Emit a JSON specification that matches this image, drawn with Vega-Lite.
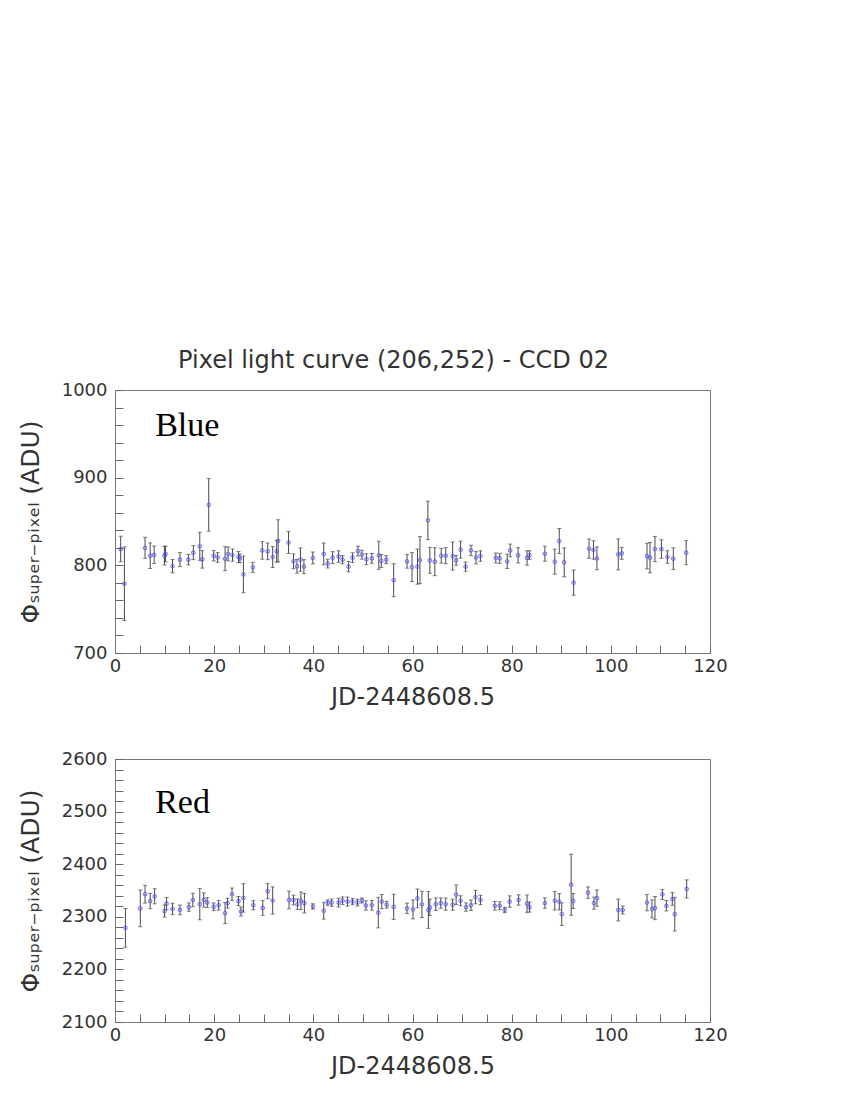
{
  "$schema": "https://vega.github.io/schema/vega-lite/v6.json",
  "background": "white",
  "padding": {"left": 17, "top": 348, "right": 20, "bottom": 20},
  "config": {
    "font": "DejaVu Sans",
    "view": {"stroke": "#777777", "strokeWidth": 1},
    "axis": {
      "grid": false,
      "domainColor": "#777777",
      "tickColor": "#666666",
      "labelFont": "DejaVu Sans",
      "labelFontSize": 18,
      "labelColor": "#333333",
      "titleFont": "DejaVu Sans",
      "titleFontSize": 24,
      "titleColor": "#333333",
      "titleFontWeight": "normal",
      "labelFlush": false,
      "labelBound": false
    },
    "title": {"font": "DejaVu Sans", "fontSize": 24, "fontWeight": "normal", "color": "#333333"}
  },
  "datasets": {
    "blue": [
      {"t": 1.15, "flux": 818.6, "lo": 804.1, "hi": 833.1}, {"t": 1.9, "flux": 779, "lo": 737, "hi": 821},
      {"t": 6.06, "flux": 820, "lo": 808, "hi": 832}, {"t": 7.1, "flux": 811, "lo": 796.4, "hi": 825.6},
      {"t": 7.9, "flux": 812, "lo": 802, "hi": 822}, {"t": 9.97, "flux": 811, "lo": 800.4, "hi": 821.6},
      {"t": 10.2, "flux": 813, "lo": 804, "hi": 822}, {"t": 11.6, "flux": 799, "lo": 791.4, "hi": 806.6},
      {"t": 13.1, "flux": 806.5, "lo": 798.5, "hi": 814.5}, {"t": 14.8, "flux": 806.5, "lo": 800.5, "hi": 812.5},
      {"t": 15.8, "flux": 814.5, "lo": 806.5, "hi": 822.5}, {"t": 17.1, "flux": 821.7, "lo": 805.7, "hi": 837.7},
      {"t": 17.6, "flux": 806.8, "lo": 796.8, "hi": 816.8}, {"t": 18.9, "flux": 869, "lo": 839, "hi": 899},
      {"t": 19.9, "flux": 811, "lo": 805, "hi": 817}, {"t": 20.7, "flux": 809, "lo": 803.5, "hi": 814.5},
      {"t": 22.2, "flux": 807.6, "lo": 793.9, "hi": 821.3}, {"t": 22.8, "flux": 813, "lo": 805, "hi": 821},
      {"t": 23.7, "flux": 811.7, "lo": 804.7, "hi": 818.7}, {"t": 24.9, "flux": 809.5, "lo": 803.2, "hi": 815.8},
      {"t": 25.2, "flux": 808, "lo": 803, "hi": 813}, {"t": 25.9, "flux": 789.7, "lo": 768.7, "hi": 810.7},
      {"t": 27.8, "flux": 797.7, "lo": 792, "hi": 803.4}, {"t": 29.7, "flux": 817, "lo": 807, "hi": 827},
      {"t": 30.8, "flux": 816, "lo": 806.5, "hi": 825.5}, {"t": 31.8, "flux": 809.5, "lo": 797.5, "hi": 821.5},
      {"t": 32.6, "flux": 816, "lo": 803.6, "hi": 828.4}, {"t": 32.9, "flux": 828, "lo": 804, "hi": 852},
      {"t": 35.0, "flux": 826, "lo": 813.5, "hi": 838.5}, {"t": 36.0, "flux": 804.6, "lo": 796.2, "hi": 813},
      {"t": 36.7, "flux": 798.9, "lo": 791.1, "hi": 806.7}, {"t": 37.4, "flux": 806.5, "lo": 793.2, "hi": 819.8},
      {"t": 38.1, "flux": 798.5, "lo": 790.5, "hi": 806.5}, {"t": 39.9, "flux": 808.4, "lo": 801.6, "hi": 815.2},
      {"t": 42.1, "flux": 813, "lo": 800.5, "hi": 825.5}, {"t": 42.9, "flux": 802, "lo": 797, "hi": 807},
      {"t": 43.9, "flux": 808.8, "lo": 802, "hi": 815.6}, {"t": 45.1, "flux": 810, "lo": 803.4, "hi": 816.6},
      {"t": 45.9, "flux": 806.5, "lo": 801.7, "hi": 811.3}, {"t": 47.1, "flux": 798.5, "lo": 792.6, "hi": 804.4},
      {"t": 47.9, "flux": 808.8, "lo": 803.3, "hi": 814.3}, {"t": 49.0, "flux": 816.3, "lo": 810.8, "hi": 821.8},
      {"t": 49.8, "flux": 812.2, "lo": 807.1, "hi": 817.3}, {"t": 50.7, "flux": 807, "lo": 800.7, "hi": 813.3},
      {"t": 51.8, "flux": 808, "lo": 802.5, "hi": 813.5}, {"t": 53.2, "flux": 811.4, "lo": 795.4, "hi": 827.4},
      {"t": 53.7, "flux": 805, "lo": 797.6, "hi": 812.4}, {"t": 54.7, "flux": 806.5, "lo": 801.9, "hi": 811.1},
      {"t": 56.2, "flux": 783, "lo": 764.2, "hi": 801.8}, {"t": 58.9, "flux": 804.6, "lo": 796.8, "hi": 812.4},
      {"t": 59.9, "flux": 798, "lo": 781.5, "hi": 814.5}, {"t": 61.0, "flux": 798.5, "lo": 778.5, "hi": 818.5},
      {"t": 61.5, "flux": 806, "lo": 779.2, "hi": 832.8}, {"t": 63.1, "flux": 851.3, "lo": 829.3, "hi": 873.3},
      {"t": 63.5, "flux": 805.7, "lo": 790.9, "hi": 820.5}, {"t": 64.5, "flux": 804.2, "lo": 788.2, "hi": 820.2},
      {"t": 65.8, "flux": 811, "lo": 802.6, "hi": 819.4}, {"t": 66.7, "flux": 811, "lo": 801.9, "hi": 820.1},
      {"t": 68.1, "flux": 810.6, "lo": 794.6, "hi": 826.6}, {"t": 68.8, "flux": 805.7, "lo": 800.2, "hi": 811.2},
      {"t": 69.7, "flux": 817.9, "lo": 808.2, "hi": 827.6}, {"t": 70.7, "flux": 798.5, "lo": 793.2, "hi": 803.8},
      {"t": 71.8, "flux": 817, "lo": 811.1, "hi": 822.9}, {"t": 72.8, "flux": 808.8, "lo": 801.6, "hi": 816},
      {"t": 73.7, "flux": 810.6, "lo": 804.6, "hi": 816.6}, {"t": 76.8, "flux": 808.4, "lo": 802.7, "hi": 814.1},
      {"t": 77.6, "flux": 808, "lo": 802.3, "hi": 813.7}, {"t": 79.1, "flux": 804.6, "lo": 796.4, "hi": 812.8},
      {"t": 79.7, "flux": 817, "lo": 809.8, "hi": 824.2}, {"t": 81.3, "flux": 811.4, "lo": 802.7, "hi": 820.1},
      {"t": 83.1, "flux": 808.4, "lo": 800.2, "hi": 816.6}, {"t": 83.6, "flux": 811.7, "lo": 806.8, "hi": 816.6},
      {"t": 86.7, "flux": 813.3, "lo": 804.7, "hi": 821.9}, {"t": 88.7, "flux": 804.2, "lo": 789.9, "hi": 818.5},
      {"t": 89.6, "flux": 827.7, "lo": 813.4, "hi": 842}, {"t": 90.6, "flux": 803.4, "lo": 786.9, "hi": 819.9},
      {"t": 92.5, "flux": 780.3, "lo": 765.9, "hi": 794.7}, {"t": 95.6, "flux": 819, "lo": 808, "hi": 830},
      {"t": 96.5, "flux": 817.5, "lo": 807, "hi": 828}, {"t": 97.2, "flux": 808, "lo": 795, "hi": 821},
      {"t": 101.5, "flux": 812.5, "lo": 794.8, "hi": 830.2}, {"t": 102.2, "flux": 813.7, "lo": 806.9, "hi": 820.5},
      {"t": 107.3, "flux": 810.6, "lo": 796, "hi": 825.2}, {"t": 107.9, "flux": 808.8, "lo": 791.5, "hi": 826.1},
      {"t": 108.9, "flux": 818.6, "lo": 804.2, "hi": 833}, {"t": 110.2, "flux": 818.6, "lo": 808, "hi": 829.2},
      {"t": 111.4, "flux": 809.5, "lo": 802.3, "hi": 816.7}, {"t": 112.6, "flux": 807.6, "lo": 795.2, "hi": 820},
      {"t": 115.2, "flux": 814.5, "lo": 800.8, "hi": 828.2}
    ],
    "red": [
      {"t": 2.1, "flux": 2279, "lo": 2242.2, "hi": 2315.8}, {"t": 5.1, "flux": 2316, "lo": 2281, "hi": 2351},
      {"t": 6.06, "flux": 2343, "lo": 2326, "hi": 2360}, {"t": 7.1, "flux": 2330, "lo": 2315.4, "hi": 2344.6},
      {"t": 8.0, "flux": 2339, "lo": 2324.7, "hi": 2353.3}, {"t": 10.0, "flux": 2311, "lo": 2299.5, "hi": 2322.5},
      {"t": 10.4, "flux": 2325, "lo": 2313.2, "hi": 2336.8}, {"t": 11.6, "flux": 2315, "lo": 2304.2, "hi": 2325.8},
      {"t": 13.1, "flux": 2313, "lo": 2303.8, "hi": 2322.2}, {"t": 14.9, "flux": 2318.5, "lo": 2310.5, "hi": 2326.5},
      {"t": 15.7, "flux": 2332, "lo": 2319.3, "hi": 2344.7}, {"t": 17.1, "flux": 2324, "lo": 2294.4, "hi": 2353.6},
      {"t": 17.9, "flux": 2332, "lo": 2318.6, "hi": 2345.4}, {"t": 18.6, "flux": 2327, "lo": 2317.5, "hi": 2336.5},
      {"t": 19.9, "flux": 2319, "lo": 2311.7, "hi": 2326.3}, {"t": 20.9, "flux": 2322, "lo": 2312.8, "hi": 2331.2},
      {"t": 22.2, "flux": 2307, "lo": 2287, "hi": 2327}, {"t": 22.7, "flux": 2326, "lo": 2316.5, "hi": 2335.5},
      {"t": 23.6, "flux": 2343, "lo": 2331.2, "hi": 2354.8}, {"t": 24.9, "flux": 2330, "lo": 2321.4, "hi": 2338.6},
      {"t": 25.4, "flux": 2310, "lo": 2301.4, "hi": 2318.6}, {"t": 25.9, "flux": 2336, "lo": 2309, "hi": 2363},
      {"t": 27.9, "flux": 2322, "lo": 2313.4, "hi": 2330.6}, {"t": 29.8, "flux": 2317, "lo": 2302.7, "hi": 2331.3},
      {"t": 30.8, "flux": 2349, "lo": 2334.4, "hi": 2363.6}, {"t": 31.8, "flux": 2331, "lo": 2305.2, "hi": 2356.8},
      {"t": 35.1, "flux": 2332, "lo": 2315.2, "hi": 2348.8}, {"t": 36.0, "flux": 2332, "lo": 2322.8, "hi": 2341.2},
      {"t": 36.8, "flux": 2324, "lo": 2314, "hi": 2334}, {"t": 37.5, "flux": 2330.5, "lo": 2313.7, "hi": 2347.3},
      {"t": 38.2, "flux": 2326, "lo": 2307.5, "hi": 2344.5}, {"t": 39.9, "flux": 2319.7, "lo": 2314.6, "hi": 2324.8},
      {"t": 42.1, "flux": 2311.5, "lo": 2295.6, "hi": 2327.4}, {"t": 42.9, "flux": 2327, "lo": 2321.9, "hi": 2332.1},
      {"t": 43.7, "flux": 2327, "lo": 2320, "hi": 2334}, {"t": 45.1, "flux": 2327, "lo": 2318.7, "hi": 2335.3},
      {"t": 45.9, "flux": 2330.5, "lo": 2323.2, "hi": 2337.8}, {"t": 46.9, "flux": 2329, "lo": 2320.4, "hi": 2337.6},
      {"t": 47.9, "flux": 2329, "lo": 2323, "hi": 2335}, {"t": 48.9, "flux": 2327, "lo": 2320.6, "hi": 2333.4},
      {"t": 49.8, "flux": 2331, "lo": 2326.2, "hi": 2335.8}, {"t": 50.6, "flux": 2321.5, "lo": 2312.6, "hi": 2330.4},
      {"t": 51.8, "flux": 2322, "lo": 2312.8, "hi": 2331.2}, {"t": 53.1, "flux": 2308, "lo": 2279, "hi": 2337},
      {"t": 53.8, "flux": 2329, "lo": 2315.6, "hi": 2342.4}, {"t": 54.8, "flux": 2323, "lo": 2316.6, "hi": 2329.4},
      {"t": 56.2, "flux": 2319, "lo": 2295.1, "hi": 2342.9}, {"t": 58.9, "flux": 2316, "lo": 2306.1, "hi": 2325.9},
      {"t": 60.1, "flux": 2314, "lo": 2296, "hi": 2332}, {"t": 61.0, "flux": 2335, "lo": 2317.2, "hi": 2352.8},
      {"t": 61.9, "flux": 2323.5, "lo": 2298.5, "hi": 2348.5}, {"t": 63.2, "flux": 2313, "lo": 2278, "hi": 2348},
      {"t": 63.5, "flux": 2318, "lo": 2302.4, "hi": 2333.6}, {"t": 64.7, "flux": 2324, "lo": 2312.2, "hi": 2335.8},
      {"t": 65.7, "flux": 2326, "lo": 2316.1, "hi": 2335.9}, {"t": 66.7, "flux": 2324, "lo": 2312.5, "hi": 2335.5},
      {"t": 68.1, "flux": 2323, "lo": 2312.5, "hi": 2333.5}, {"t": 68.8, "flux": 2342, "lo": 2323.5, "hi": 2360.5},
      {"t": 69.7, "flux": 2330.5, "lo": 2321, "hi": 2340}, {"t": 70.8, "flux": 2318.5, "lo": 2310.5, "hi": 2326.5},
      {"t": 71.8, "flux": 2322, "lo": 2312.1, "hi": 2331.9}, {"t": 72.7, "flux": 2337.5, "lo": 2324.8, "hi": 2350.2},
      {"t": 73.7, "flux": 2332, "lo": 2323.1, "hi": 2340.9}, {"t": 76.6, "flux": 2321, "lo": 2312.7, "hi": 2329.3},
      {"t": 77.6, "flux": 2321, "lo": 2313.4, "hi": 2328.6}, {"t": 78.6, "flux": 2313, "lo": 2307.9, "hi": 2318.1},
      {"t": 79.6, "flux": 2329, "lo": 2318.2, "hi": 2339.8}, {"t": 81.4, "flux": 2332, "lo": 2322.1, "hi": 2341.9},
      {"t": 83.1, "flux": 2325, "lo": 2308.5, "hi": 2341.5}, {"t": 83.6, "flux": 2318.5, "lo": 2309, "hi": 2328},
      {"t": 86.7, "flux": 2326, "lo": 2316.1, "hi": 2335.9}, {"t": 88.7, "flux": 2330.5, "lo": 2313, "hi": 2348},
      {"t": 89.6, "flux": 2328.6, "lo": 2313, "hi": 2344.2}, {"t": 90.1, "flux": 2305, "lo": 2283.4, "hi": 2326.6},
      {"t": 92.0, "flux": 2361, "lo": 2303, "hi": 2419}, {"t": 92.4, "flux": 2330, "lo": 2315.7, "hi": 2344.3},
      {"t": 95.4, "flux": 2346, "lo": 2335.2, "hi": 2356.8}, {"t": 96.6, "flux": 2326, "lo": 2314.5, "hi": 2337.5},
      {"t": 97.2, "flux": 2335.6, "lo": 2320, "hi": 2351.2}, {"t": 101.5, "flux": 2313, "lo": 2292.3, "hi": 2333.7},
      {"t": 102.4, "flux": 2313, "lo": 2305.4, "hi": 2320.6}, {"t": 107.3, "flux": 2327, "lo": 2311.4, "hi": 2342.6},
      {"t": 108.3, "flux": 2315, "lo": 2297.8, "hi": 2332.2}, {"t": 108.9, "flux": 2316.6, "lo": 2294.6, "hi": 2338.6},
      {"t": 110.4, "flux": 2342.6, "lo": 2333.1, "hi": 2352.1}, {"t": 111.2, "flux": 2321, "lo": 2311.1, "hi": 2330.9},
      {"t": 112.4, "flux": 2334, "lo": 2322, "hi": 2346}, {"t": 112.9, "flux": 2305, "lo": 2273, "hi": 2337},
      {"t": 115.3, "flux": 2353, "lo": 2335.8, "hi": 2370.2}
    ]
  },
  "bounds": "flush",
  "spacing": 106,
  "vconcat": [
    {
      "title": {"text": "Pixel light curve (206,252) - CCD 02", "anchor": "middle", "offset": 8, "dx": -19},
      "width": 595,
      "height": 263,
      "layer": [
        {
          "data": {"name": "blue"},
          "mark": {"type": "rule", "color": "#4a4a4a", "strokeWidth": 1},
          "encoding": {
            "x": {"field": "t", "type": "quantitative", "scale": {"domain": [0, 120], "nice": false},
              "axis": {"title": "JD-2448608.5", "values": [0,5,10,15,20,25,30,35,40,45,50,55,60,65,70,75,80,85,90,95,100,105,110,115,120],
                "format": "d", "labelOverlap": false, "labelExpr": "datum.value % 20 === 0 ? datum.label : ''",
                "tickSize": -8, "labelPadding": 12, "titlePadding": 10}},
            "y": {"field": "lo", "type": "quantitative", "scale": {"domain": [700, 1000], "nice": false, "zero": false},
              "axis": {"title": "Φₛᵤₚₑᵣ₋ₚᵢₓₑₗ (ADU)", "values": [700,720,740,760,780,800,820,840,860,880,900,920,940,960,980,1000],
                "format": "d", "labelOverlap": false, "labelExpr": "datum.value % 100 === 0 ? datum.label : ''",
                "tickSize": -8, "labelPadding": 16, "titlePadding": 18, "titleFontSize": 25}},
            "y2": {"field": "hi"}
          }
        },
        {
          "data": {"name": "blue"},
          "mark": {"type": "tick", "orient": "horizontal", "color": "#4a4a4a", "size": 4, "thickness": 1},
          "encoding": {
            "x": {"field": "t", "type": "quantitative", "scale": {"domain": [0, 120], "nice": false},
              "axis": {"title": "JD-2448608.5", "values": [0,5,10,15,20,25,30,35,40,45,50,55,60,65,70,75,80,85,90,95,100,105,110,115,120],
                "format": "d", "labelOverlap": false, "labelExpr": "datum.value % 20 === 0 ? datum.label : ''",
                "tickSize": -8, "labelPadding": 12, "titlePadding": 10}},
            "y": {"field": "lo", "type": "quantitative", "scale": {"domain": [700, 1000], "nice": false, "zero": false},
              "axis": {"title": "Φₛᵤₚₑᵣ₋ₚᵢₓₑₗ (ADU)", "values": [700,720,740,760,780,800,820,840,860,880,900,920,940,960,980,1000],
                "format": "d", "labelOverlap": false, "labelExpr": "datum.value % 100 === 0 ? datum.label : ''",
                "tickSize": -8, "labelPadding": 16, "titlePadding": 18, "titleFontSize": 25}}
          }
        },
        {
          "data": {"name": "blue"},
          "mark": {"type": "tick", "orient": "horizontal", "color": "#4a4a4a", "size": 4, "thickness": 1},
          "encoding": {
            "x": {"field": "t", "type": "quantitative", "scale": {"domain": [0, 120], "nice": false},
              "axis": {"title": "JD-2448608.5", "values": [0,5,10,15,20,25,30,35,40,45,50,55,60,65,70,75,80,85,90,95,100,105,110,115,120],
                "format": "d", "labelOverlap": false, "labelExpr": "datum.value % 20 === 0 ? datum.label : ''",
                "tickSize": -8, "labelPadding": 12, "titlePadding": 10}},
            "y": {"field": "hi", "type": "quantitative", "scale": {"domain": [700, 1000], "nice": false, "zero": false},
              "axis": {"title": "Φₛᵤₚₑᵣ₋ₚᵢₓₑₗ (ADU)", "values": [700,720,740,760,780,800,820,840,860,880,900,920,940,960,980,1000],
                "format": "d", "labelOverlap": false, "labelExpr": "datum.value % 100 === 0 ? datum.label : ''",
                "tickSize": -8, "labelPadding": 16, "titlePadding": 18, "titleFontSize": 25}}
          }
        },
        {
          "data": {"name": "blue"},
          "mark": {"type": "point", "shape": "circle", "filled": false, "color": "#4848ff", "size": 12, "strokeWidth": 1.1},
          "encoding": {
            "x": {"field": "t", "type": "quantitative", "scale": {"domain": [0, 120], "nice": false},
              "axis": {"title": "JD-2448608.5", "values": [0,5,10,15,20,25,30,35,40,45,50,55,60,65,70,75,80,85,90,95,100,105,110,115,120],
                "format": "d", "labelOverlap": false, "labelExpr": "datum.value % 20 === 0 ? datum.label : ''",
                "tickSize": -8, "labelPadding": 12, "titlePadding": 10}},
            "y": {"field": "flux", "type": "quantitative", "scale": {"domain": [700, 1000], "nice": false, "zero": false},
              "axis": {"title": "Φₛᵤₚₑᵣ₋ₚᵢₓₑₗ (ADU)", "values": [700,720,740,760,780,800,820,840,860,880,900,920,940,960,980,1000],
                "format": "d", "labelOverlap": false, "labelExpr": "datum.value % 100 === 0 ? datum.label : ''",
                "tickSize": -8, "labelPadding": 16, "titlePadding": 18, "titleFontSize": 25}}
          }
        },
        {
          "data": {"values": [{"label": "Blue"}]},
          "mark": {"type": "text", "font": "Liberation Serif", "fontSize": 34, "align": "left", "baseline": "alphabetic", "color": "#000000"},
          "encoding": {
            "x": {"datum": 8.1, "type": "quantitative", "scale": {"domain": [0, 120], "nice": false},
              "axis": {"title": "JD-2448608.5", "values": [0,5,10,15,20,25,30,35,40,45,50,55,60,65,70,75,80,85,90,95,100,105,110,115,120],
                "format": "d", "labelOverlap": false, "labelExpr": "datum.value % 20 === 0 ? datum.label : ''",
                "tickSize": -8, "labelPadding": 12, "titlePadding": 10}},
            "y": {"datum": 948, "type": "quantitative", "scale": {"domain": [700, 1000], "nice": false, "zero": false},
              "axis": {"title": "Φₛᵤₚₑᵣ₋ₚᵢₓₑₗ (ADU)", "values": [700,720,740,760,780,800,820,840,860,880,900,920,940,960,980,1000],
                "format": "d", "labelOverlap": false, "labelExpr": "datum.value % 100 === 0 ? datum.label : ''",
                "tickSize": -8, "labelPadding": 16, "titlePadding": 18, "titleFontSize": 25}},
            "text": {"field": "label"}
          }
        }
      ]
    },
    {
      "width": 595,
      "height": 263,
      "layer": [
        {
          "data": {"name": "red"},
          "mark": {"type": "rule", "color": "#4a4a4a", "strokeWidth": 1},
          "encoding": {
            "x": {"field": "t", "type": "quantitative", "scale": {"domain": [0, 120], "nice": false},
              "axis": {"title": "JD-2448608.5", "values": [0,5,10,15,20,25,30,35,40,45,50,55,60,65,70,75,80,85,90,95,100,105,110,115,120],
                "format": "d", "labelOverlap": false, "labelExpr": "datum.value % 20 === 0 ? datum.label : ''",
                "tickSize": -8, "labelPadding": 12, "titlePadding": 10}},
            "y": {"field": "lo", "type": "quantitative", "scale": {"domain": [2100, 2600], "nice": false, "zero": false},
              "axis": {"title": "Φₛᵤₚₑᵣ₋ₚᵢₓₑₗ (ADU)", "values": [2100,2120,2140,2160,2180,2200,2220,2240,2260,2280,2300,2320,2340,2360,2380,2400,2420,2440,2460,2480,2500,2520,2540,2560,2580,2600],
                "format": "d", "labelOverlap": false, "labelExpr": "datum.value % 100 === 0 ? datum.label : ''",
                "tickSize": -8, "labelPadding": 16, "titlePadding": 18, "titleFontSize": 25}},
            "y2": {"field": "hi"}
          }
        },
        {
          "data": {"name": "red"},
          "mark": {"type": "tick", "orient": "horizontal", "color": "#4a4a4a", "size": 4, "thickness": 1},
          "encoding": {
            "x": {"field": "t", "type": "quantitative", "scale": {"domain": [0, 120], "nice": false},
              "axis": {"title": "JD-2448608.5", "values": [0,5,10,15,20,25,30,35,40,45,50,55,60,65,70,75,80,85,90,95,100,105,110,115,120],
                "format": "d", "labelOverlap": false, "labelExpr": "datum.value % 20 === 0 ? datum.label : ''",
                "tickSize": -8, "labelPadding": 12, "titlePadding": 10}},
            "y": {"field": "lo", "type": "quantitative", "scale": {"domain": [2100, 2600], "nice": false, "zero": false},
              "axis": {"title": "Φₛᵤₚₑᵣ₋ₚᵢₓₑₗ (ADU)", "values": [2100,2120,2140,2160,2180,2200,2220,2240,2260,2280,2300,2320,2340,2360,2380,2400,2420,2440,2460,2480,2500,2520,2540,2560,2580,2600],
                "format": "d", "labelOverlap": false, "labelExpr": "datum.value % 100 === 0 ? datum.label : ''",
                "tickSize": -8, "labelPadding": 16, "titlePadding": 18, "titleFontSize": 25}}
          }
        },
        {
          "data": {"name": "red"},
          "mark": {"type": "tick", "orient": "horizontal", "color": "#4a4a4a", "size": 4, "thickness": 1},
          "encoding": {
            "x": {"field": "t", "type": "quantitative", "scale": {"domain": [0, 120], "nice": false},
              "axis": {"title": "JD-2448608.5", "values": [0,5,10,15,20,25,30,35,40,45,50,55,60,65,70,75,80,85,90,95,100,105,110,115,120],
                "format": "d", "labelOverlap": false, "labelExpr": "datum.value % 20 === 0 ? datum.label : ''",
                "tickSize": -8, "labelPadding": 12, "titlePadding": 10}},
            "y": {"field": "hi", "type": "quantitative", "scale": {"domain": [2100, 2600], "nice": false, "zero": false},
              "axis": {"title": "Φₛᵤₚₑᵣ₋ₚᵢₓₑₗ (ADU)", "values": [2100,2120,2140,2160,2180,2200,2220,2240,2260,2280,2300,2320,2340,2360,2380,2400,2420,2440,2460,2480,2500,2520,2540,2560,2580,2600],
                "format": "d", "labelOverlap": false, "labelExpr": "datum.value % 100 === 0 ? datum.label : ''",
                "tickSize": -8, "labelPadding": 16, "titlePadding": 18, "titleFontSize": 25}}
          }
        },
        {
          "data": {"name": "red"},
          "mark": {"type": "point", "shape": "circle", "filled": false, "color": "#4848ff", "size": 12, "strokeWidth": 1.1},
          "encoding": {
            "x": {"field": "t", "type": "quantitative", "scale": {"domain": [0, 120], "nice": false},
              "axis": {"title": "JD-2448608.5", "values": [0,5,10,15,20,25,30,35,40,45,50,55,60,65,70,75,80,85,90,95,100,105,110,115,120],
                "format": "d", "labelOverlap": false, "labelExpr": "datum.value % 20 === 0 ? datum.label : ''",
                "tickSize": -8, "labelPadding": 12, "titlePadding": 10}},
            "y": {"field": "flux", "type": "quantitative", "scale": {"domain": [2100, 2600], "nice": false, "zero": false},
              "axis": {"title": "Φₛᵤₚₑᵣ₋ₚᵢₓₑₗ (ADU)", "values": [2100,2120,2140,2160,2180,2200,2220,2240,2260,2280,2300,2320,2340,2360,2380,2400,2420,2440,2460,2480,2500,2520,2540,2560,2580,2600],
                "format": "d", "labelOverlap": false, "labelExpr": "datum.value % 100 === 0 ? datum.label : ''",
                "tickSize": -8, "labelPadding": 16, "titlePadding": 18, "titleFontSize": 25}}
          }
        },
        {
          "data": {"values": [{"label": "Red"}]},
          "mark": {"type": "text", "font": "Liberation Serif", "fontSize": 34, "align": "left", "baseline": "alphabetic", "color": "#000000"},
          "encoding": {
            "x": {"datum": 8.1, "type": "quantitative", "scale": {"domain": [0, 120], "nice": false},
              "axis": {"title": "JD-2448608.5", "values": [0,5,10,15,20,25,30,35,40,45,50,55,60,65,70,75,80,85,90,95,100,105,110,115,120],
                "format": "d", "labelOverlap": false, "labelExpr": "datum.value % 20 === 0 ? datum.label : ''",
                "tickSize": -8, "labelPadding": 12, "titlePadding": 10}},
            "y": {"datum": 2498, "type": "quantitative", "scale": {"domain": [2100, 2600], "nice": false, "zero": false},
              "axis": {"title": "Φₛᵤₚₑᵣ₋ₚᵢₓₑₗ (ADU)", "values": [2100,2120,2140,2160,2180,2200,2220,2240,2260,2280,2300,2320,2340,2360,2380,2400,2420,2440,2460,2480,2500,2520,2540,2560,2580,2600],
                "format": "d", "labelOverlap": false, "labelExpr": "datum.value % 100 === 0 ? datum.label : ''",
                "tickSize": -8, "labelPadding": 16, "titlePadding": 18, "titleFontSize": 25}},
            "text": {"field": "label"}
          }
        }
      ]
    }
  ]
}
